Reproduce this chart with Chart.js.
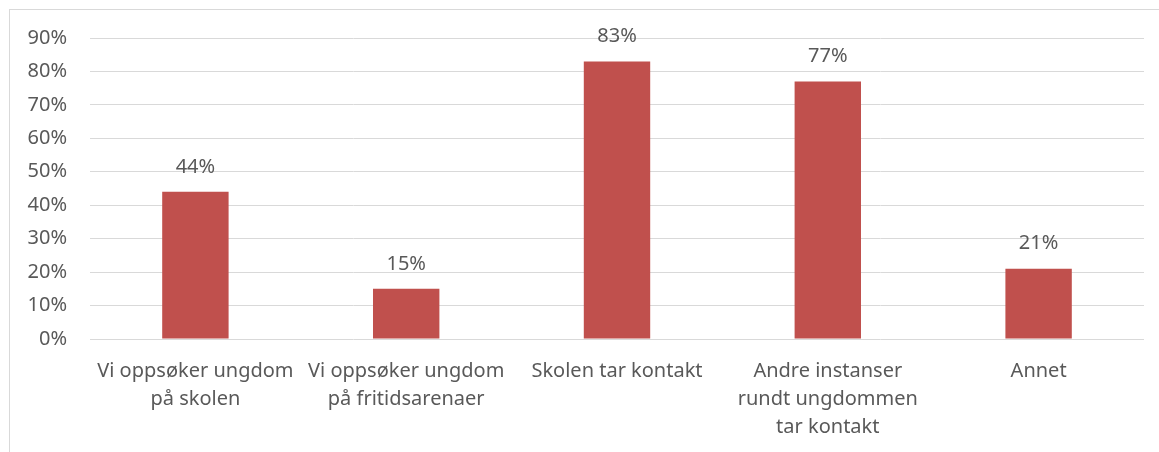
<!DOCTYPE html>
<html>
<head>
<meta charset="utf-8">
<script src="https://cdn.jsdelivr.net/npm/chart.js@4/dist/chart.umd.min.js"></script>
<style>
  html, body { margin:0; padding:0; background:#fff; }
  #wrap { position:relative; width:1159px; height:452px; }
  #frame { position:absolute; left:9px; top:9px; width:1160px; height:460px; border:1px solid #d9d9d9; box-sizing:border-box; }
  canvas { position:absolute; left:0; top:0; }
</style>
</head>
<body>
<div id="wrap">
  <div id="frame"></div>
  <canvas id="c" width="1159" height="452"></canvas>
</div>
<script>
// values
const categories = [
  ['Vi oppsøker ungdom', 'på skolen'],
  ['Vi oppsøker ungdom', 'på fritidsarenaer'],
  'Skolen tar kontakt',
  ['Andre instanser', 'rundt ungdommen', 'tar kontakt'],
  'Annet'
];
const values = [44, 15, 83, 77, 21];
const yTicks = [0, 10, 20, 30, 40, 50, 60, 70, 80, 90];

const textColor = '#595959';
const fontFamily = '"Noto Sans", "Open Sans", sans-serif';

// value labels above each bar
const barLabels = {
  id: 'barLabels',
  afterDatasetsDraw(chart) {
    const { ctx } = chart;
    const meta = chart.getDatasetMeta(0);
    ctx.save();
    ctx.fillStyle = textColor;
    ctx.font = '20px ' + fontFamily;
    ctx.textAlign = 'center';
    ctx.textBaseline = 'middle';
    meta.data.forEach((bar, i) => {
      ctx.fillText(values[i] + '%', bar.x, bar.y - 25);
    });
    ctx.restore();
  }
};

new Chart(document.getElementById('c'), {
  type: 'bar',
  data: {
    labels: categories,
    datasets: [{
      data: values,
      backgroundColor: '#c0504d',
      borderWidth: 0,
      barPercentage: 0.63,
      categoryPercentage: 0.5
    }]
  },
  options: {
    responsive: false,
    animation: false,
    layout: { padding: { top: 38, right: 15, bottom: 0, left: 0 } },
    plugins: { legend: { display: false }, tooltip: { enabled: false } },
    scales: {
      x: {
        grid: { display: false },
        border: { display: false },
        ticks: { color: textColor, font: { family: fontFamily, size: 20, lineHeight: 1.4 }, padding: 10, maxRotation: 0, autoSkip: false },
        afterFit(scale) { scale.height = 113; }
      },
      y: {
        min: 0,
        max: 90,
        afterBuildTicks(scale) { scale.ticks = yTicks.map(v => ({ value: v })); },
        grid: { color: '#d9d9d9', lineWidth: 1, drawTicks: false },
        border: { display: false },
        ticks: { color: textColor, font: { family: fontFamily, size: 20 }, padding: 23, callback: v => v + '%' },
        afterFit(scale) { scale.width = 90; }
      }
    }
  },
  plugins: [barLabels]
});
</script>
</body>
</html>
